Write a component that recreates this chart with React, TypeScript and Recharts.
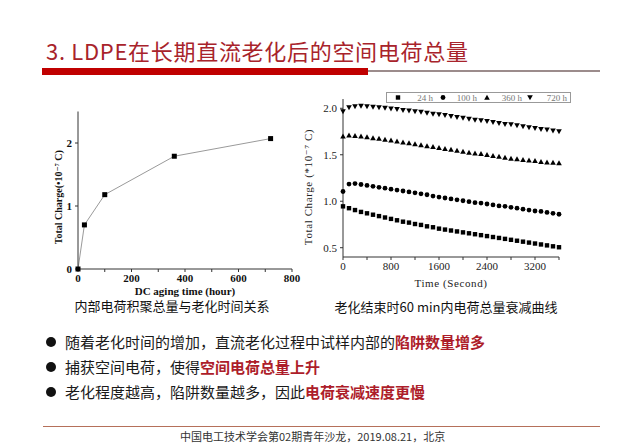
import { LineChart, Line, ScatterChart, Scatter, XAxis, YAxis } from 'recharts';

// left chart: charge build-up vs DC aging time
const agingHours = [0, 24, 100, 360, 720];
const totalCharge = [0, 0.7, 1.18, 1.79, 2.07];
const agingTicks = [0, 100, 200, 300, 400, 500, 600, 700, 800];
const chargeTicks = [0, 1, 2];

// right chart: 60 min decay after aging, one point every 100 s
const decaySeconds = [
  0, 100, 200, 300, 400, 500, 600, 700, 800, 900, 1000, 1100, 1200, 1300, 1400, 1500, 1600, 1700, 1800,
  1900, 2000, 2100, 2200, 2300, 2400, 2500, 2600, 2700, 2800, 2900, 3000, 3100, 3200, 3300, 3400, 3500, 3600,
];
const charge24h = [
  0.945, 0.925, 0.905, 0.885, 0.87, 0.855, 0.84, 0.825, 0.81, 0.795, 0.78, 0.77, 0.755, 0.745, 0.73, 0.72,
  0.705, 0.695, 0.685, 0.675, 0.665, 0.655, 0.645, 0.635, 0.625, 0.615, 0.605, 0.595, 0.585, 0.575, 0.565,
  0.555, 0.545, 0.535, 0.525, 0.515, 0.505,
];
const charge100h = [
  1.105, 1.185, 1.19, 1.18, 1.17, 1.16, 1.15, 1.14, 1.13, 1.12, 1.11, 1.1, 1.09, 1.08, 1.07, 1.055, 1.045,
  1.035, 1.025, 1.015, 1.005, 0.995, 0.985, 0.98, 0.97, 0.96, 0.95, 0.945, 0.935, 0.925, 0.915, 0.905, 0.895,
  0.89, 0.88, 0.87, 0.86,
];
const charge360h = [
  1.7, 1.71, 1.705, 1.7, 1.69, 1.68, 1.675, 1.665, 1.655, 1.645, 1.635, 1.625, 1.615, 1.605, 1.595, 1.585,
  1.575, 1.565, 1.555, 1.545, 1.535, 1.525, 1.515, 1.51, 1.5, 1.49, 1.48, 1.47, 1.46, 1.455, 1.445, 1.44,
  1.435, 1.425, 1.42, 1.415, 1.41,
];
const charge720h = [
  1.965, 2.01, 2.02, 2.025, 2.02, 2.015, 2.01, 2.005, 1.995, 1.99, 1.98, 1.975, 1.965, 1.96, 1.95, 1.94,
  1.935, 1.925, 1.915, 1.905, 1.895, 1.885, 1.875, 1.87, 1.86, 1.85, 1.84, 1.83, 1.825, 1.815, 1.805, 1.795,
  1.785, 1.775, 1.77, 1.76, 1.75,
];
const decayTicks = [0, 400, 800, 1200, 1600, 2000, 2400, 2800, 3200, 3600];
const decayChargeTicks = [0.5, 1, 1.5, 2];
const legendLabels = ['24 h', '100 h', '360 h', '720 h'];

const buildUp = agingHours.map((h, i) => ({ h, q: totalCharge[i] }));
const toPoints = (vals: number[]) => decaySeconds.map((t, i) => ({ t, q: vals[i] }));

const CJK = '"Noto Sans CJK SC", "Noto Sans", sans-serif';
const SERIF = '"Liberation Serif", "DejaVu Serif", serif';
const RED = '#ad1d2a';

type Pt = { cx?: number; cy?: number };

const SquareDot = ({ cx = 0, cy = 0 }: Pt) => <rect x={cx - 2.5} y={cy - 2.5} width={5} height={5} fill="#000" />;
const SmallSquare = ({ cx = 0, cy = 0 }: Pt) => <rect x={cx - 2.2} y={cy - 2.2} width={4.4} height={4.4} fill="#000" />;
const CircleDot = ({ cx = 0, cy = 0 }: Pt) => <circle cx={cx} cy={cy} r={2.4} fill="#000" />;
const UpTri = ({ cx = 0, cy = 0 }: Pt) => (
  <polygon points={`${cx},${cy - 2.8} ${cx + 2.8},${cy + 2.2} ${cx - 2.8},${cy + 2.2}`} fill="#000" />
);
const DownTri = ({ cx = 0, cy = 0 }: Pt) => (
  <polygon points={`${cx},${cy + 2.8} ${cx + 2.8},${cy - 2.2} ${cx - 2.8},${cy - 2.2}`} fill="#000" />
);

const markers = [SmallSquare, CircleDot, UpTri, DownTri];

function BuildUpChart() {
  const tick = { fill: '#111', fontSize: 11, fontWeight: 700, fontFamily: SERIF };
  return (
    <LineChart width={290} height={200} data={buildUp} margin={{ top: 11.5, right: 18, left: 0, bottom: 0 }}>
      <XAxis
        dataKey="h"
        type="number"
        domain={[0, 800]}
        ticks={agingTicks}
        tickFormatter={(v: number) => (v % 200 === 0 ? String(v) : '')}
        tick={tick}
        tickSize={3}
        tickMargin={2}
        height={31}
        axisLine={{ stroke: '#333' }}
        tickLine={{ stroke: '#333' }}
        label={{
          value: 'DC aging time (hour)',
          position: 'insideBottom',
          offset: 5,
          style: { fill: '#111', fontSize: 11, fontWeight: 700, fontFamily: SERIF },
        }}
      />
      <YAxis
        type="number"
        domain={[0, 2.5]}
        ticks={chargeTicks}
        tick={tick}
        tickSize={3}
        tickMargin={3}
        width={58}
        axisLine={{ stroke: '#333' }}
        tickLine={{ stroke: '#333' }}
        label={{
          value: 'Total Charge(•10⁻⁷ C)',
          angle: -90,
          position: 'center',
          dx: 9,
          dy: 7,
          style: { fill: '#111', fontSize: 10, fontWeight: 700, fontFamily: SERIF },
        }}
      />
      <Line dataKey="q" stroke="#9a9a9a" strokeWidth={1} dot={<SquareDot />} isAnimationActive={false} />
    </LineChart>
  );
}

function DecayChart() {
  const tick = { fill: '#222', fontSize: 11, fontFamily: SERIF };
  const series = [charge24h, charge100h, charge360h, charge720h];
  return (
    <ScatterChart width={290} height={205} margin={{ top: 14, right: 21, left: 0, bottom: 0 }}>
      <XAxis
        dataKey="t"
        type="number"
        domain={[0, 3600]}
        ticks={decayTicks}
        tickFormatter={(v: number) => (v % 800 === 0 ? String(v) : '')}
        tick={tick}
        tickSize={3}
        tickMargin={2}
        height={33}
        axisLine={{ stroke: '#333' }}
        tickLine={{ stroke: '#333' }}
        label={{
          value: 'Time (Second)',
          position: 'insideBottom',
          offset: 3,
          style: { fill: '#222', fontSize: 11, fontFamily: SERIF, letterSpacing: 0.6 },
        }}
      />
      <YAxis
        dataKey="q"
        type="number"
        domain={[0.4, 2.1]}
        ticks={decayChargeTicks}
        tickFormatter={(v: number) => v.toFixed(1)}
        tick={tick}
        tickSize={3}
        tickMargin={3}
        width={53}
        axisLine={{ stroke: '#333' }}
        tickLine={{ stroke: '#333' }}
        label={{
          value: 'Total Charge (*10⁻⁷ C)',
          angle: -90,
          position: 'center',
          dx: -8,
          dy: 9,
          style: { fill: '#222', fontSize: 11, fontFamily: SERIF, letterSpacing: 0.6 },
        }}
      />
      {series.map((vals, i) => {
        const Shape = markers[i];
        return (
          <Scatter
            key={legendLabels[i]}
            name={legendLabels[i]}
            data={toPoints(vals)}
            shape={(p: Pt) => <Shape cx={p.cx} cy={p.cy} />}
            isAnimationActive={false}
          />
        );
      })}
    </ScatterChart>
  );
}

function DecayLegend() {
  const markX = [12, 57, 101, 144];
  const textEnd = [47, 91, 136, 181];
  return (
    <svg width={185} height={11} style={{ position: 'absolute', left: 386, top: 92, background: '#fff' }}>
      <rect x={0.5} y={0.5} width={184} height={10} fill="#fff" stroke="#999" />
      {legendLabels.map((label, i) => {
        const Shape = markers[i];
        return (
          <g key={label}>
            <Shape cx={markX[i]} cy={5.5} />
            <text x={textEnd[i]} y={8.5} textAnchor="end" fontSize={9} fontFamily={SERIF} fill="#777">
              {label}
            </text>
          </g>
        );
      })}
    </svg>
  );
}

const bullets = [
  { plain: '随着老化时间的增加，直流老化过程中试样内部的', red: '陷阱数量增多' },
  { plain: '捕获空间电荷，使得', red: '空间电荷总量上升' },
  { plain: '老化程度越高，陷阱数量越多，因此', red: '电荷衰减速度更慢' },
];

export default function App() {
  return (
    <div
      style={{
        position: 'absolute',
        left: 0,
        top: 0,
        width: 640,
        height: 443,
        background: '#fff',
        overflow: 'hidden',
        fontFamily: CJK,
      }}
    >
      <div
        style={{
          position: 'absolute',
          left: 46,
          top: 36,
          fontSize: 22,
          lineHeight: '28px',
          letterSpacing: 0.7,
          color: '#a8232b',
        }}
      >
        3. LDPE在长期直流老化后的空间电荷总量
      </div>
      <div style={{ position: 'absolute', left: 368, top: 70, width: 232, height: 2, background: '#9c8c8c' }} />
      <div style={{ position: 'absolute', left: 42, top: 68, width: 326, height: 7, background: '#c00000' }} />

      <div style={{ position: 'absolute', left: 20, top: 100 }}>
        <BuildUpChart />
      </div>
      <div style={{ position: 'absolute', left: 290, top: 85 }}>
        <DecayChart />
      </div>
      <DecayLegend />

      <div style={{ position: 'absolute', left: 72, top: 297, width: 200, textAlign: 'center', fontSize: 13, lineHeight: '18px', color: '#111' }}>
        内部电荷积聚总量与老化时间关系
      </div>
      <div style={{ position: 'absolute', left: 330, top: 298, width: 232, textAlign: 'center', fontSize: 13, lineHeight: '18px', color: '#111' }}>
        老化结束时60 min内电荷总量衰减曲线
      </div>

      {bullets.map((b, i) => (
        <div key={i} style={{ position: 'absolute', left: 46, top: 331 + i * 25, height: 21, display: 'flex', alignItems: 'center' }}>
          <span style={{ width: 10, height: 10, borderRadius: 5, background: '#111', display: 'inline-block', marginRight: 9 }} />
          <span style={{ fontSize: 15, lineHeight: '21px', color: '#1a1a1a' }}>
            {b.plain}
            <span style={{ color: RED, fontWeight: 700 }}>{b.red}</span>
          </span>
        </div>
      ))}

      <div style={{ position: 'absolute', left: 43, top: 426, width: 557, height: 1, background: '#b5705a' }} />
      <div style={{ position: 'absolute', left: 180, top: 429, fontSize: 11, lineHeight: '14px', color: '#333' }}>
        中国电工技术学会第02期青年沙龙，2019.08.21，北京
      </div>
    </div>
  );
}
